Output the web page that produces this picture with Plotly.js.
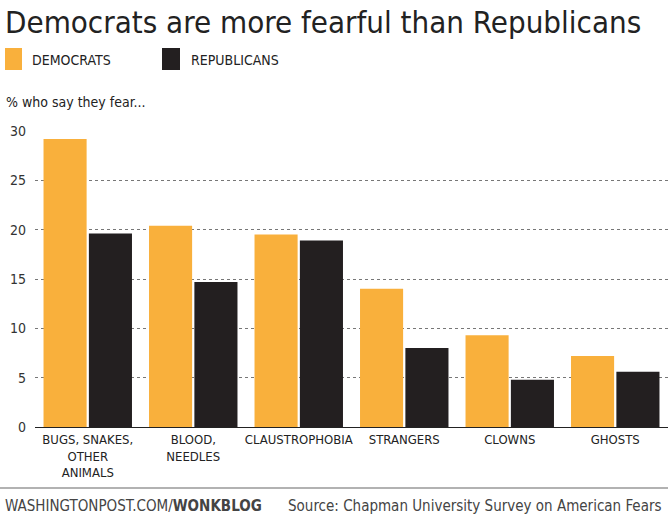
<!DOCTYPE html>
<html>
<head>
<meta charset="utf-8">
<script src="https://cdn.plot.ly/plotly-3.0.1.min.js"></script>
<style>body{margin:0;background:#fff}#chart{width:668px;height:523px}</style>
</head>
<body>
<div id="chart"></div>
<script>
// categories and survey values (% who say they fear...)
const categories = ["BUGS, SNAKES,<br>OTHER<br>ANIMALS", "BLOOD,<br>NEEDLES", "CLAUSTROPHOBIA", "STRANGERS", "CLOWNS", "GHOSTS"];
const democrats = [29.2, 20.4, 19.5, 14.0, 9.3, 7.2];
const republicans = [19.6, 14.7, 18.9, 8.0, 4.8, 5.6];
const yTicks = [0, 5, 10, 15, 20, 25, 30];

const ORANGE = "#f9b03c", BLACK = "#231f20";
const FONT = "Liberation Sans Narrow, DejaVu Sans Condensed, Arial Narrow, sans-serif";

// paper coords helpers (plot area: x 35..668, y 131..427 px)
const px = x => (x - 35) / 633;
const py = y => (427 - y) / 296;

const data = [
  { x: categories, y: democrats, type: "bar", name: "DEMOCRATS",
    marker: { color: ORANGE }, hoverinfo: "y" },
  { x: categories, y: republicans, type: "bar", name: "REPUBLICANS",
    marker: { color: BLACK }, hoverinfo: "y" }
];

const layout = {
  width: 668, height: 523,
  margin: { l: 35, r: 0, t: 131, b: 96 },
  paper_bgcolor: "#fff", plot_bgcolor: "#fff",
  font: { family: FONT, color: "#222", size: 13 },
  showlegend: false,
  barmode: "group", bargap: 0.14, bargroupgap: 0.05,
  xaxis: { tickfont: { size: 13, color: "#222" }, ticks: "", showline: true,
    linecolor: "#222", linewidth: 1, fixedrange: true },
  yaxis: { range: [0, 30], tickvals: yTicks, showgrid: true, gridcolor: "#777",
    griddash: "dot", gridwidth: 1, zeroline: false, ticks: "",
    tickfont: { size: 14, color: "#333" }, ticklabelstandoff: 8, fixedrange: true },
  shapes: [
    { type: "rect", xref: "paper", yref: "paper", x0: px(5), x1: px(22), y0: py(70), y1: py(48),
      fillcolor: ORANGE, line: { width: 0 } },
    { type: "rect", xref: "paper", yref: "paper", x0: px(162), x1: px(180), y0: py(70), y1: py(48),
      fillcolor: BLACK, line: { width: 0 } },
    { type: "line", xref: "paper", yref: "paper", x0: px(0), x1: px(668), y0: py(488), y1: py(488),
      line: { color: "#999", width: 1.5 } }
  ],
  annotations: [
    { text: "Democrats are more fearful than Republicans", xref: "paper", yref: "paper",
      x: px(3), y: py(2), xanchor: "left", yanchor: "top", showarrow: false,
      font: { size: 31, color: "#222", family: FONT } },
    { text: "DEMOCRATS", xref: "paper", yref: "paper", x: px(30), y: py(60),
      xanchor: "left", yanchor: "middle", showarrow: false, font: { size: 14, color: "#222" } },
    { text: "REPUBLICANS", xref: "paper", yref: "paper", x: px(189), y: py(60),
      xanchor: "left", yanchor: "middle", showarrow: false, font: { size: 14, color: "#222" } },
    { text: "% who say they fear...", xref: "paper", yref: "paper", x: px(4), y: py(102),
      xanchor: "left", yanchor: "middle", showarrow: false, font: { size: 14, color: "#222" } },
    { text: "WASHINGTONPOST.COM/<b>WONKBLOG</b>", xref: "paper", yref: "paper", x: px(3), y: py(506),
      xanchor: "left", yanchor: "middle", showarrow: false, font: { size: 15, color: "#444" } },
    { text: "Source: Chapman University Survey on American Fears", xref: "paper", yref: "paper",
      x: px(664), y: py(506), xanchor: "right", yanchor: "middle", showarrow: false,
      font: { size: 15, color: "#444" } }
  ]
};

Plotly.newPlot("chart", data, layout, { displayModeBar: false, staticPlot: true });
</script>
</body>
</html>
